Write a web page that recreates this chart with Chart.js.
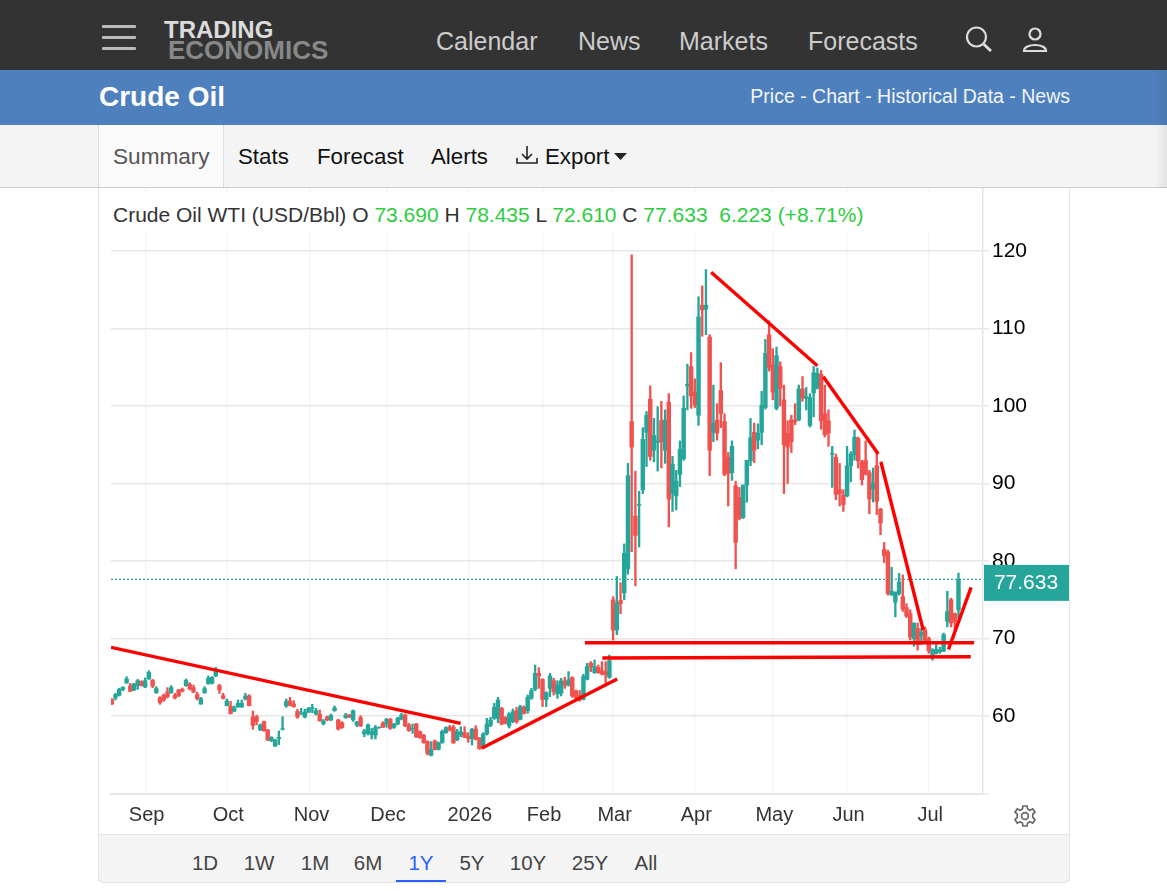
<!DOCTYPE html>
<html>
<head>
<meta charset="utf-8">
<title>Crude Oil</title>
<script src="https://cdn.jsdelivr.net/npm/chart.js@4"></script>
<style>
  html, body { margin: 0; padding: 0; background: #fff; }
  body { width: 1167px; height: 891px; position: relative; overflow: hidden; font-family: "Liberation Sans", Arial, sans-serif; }
  .box { position: absolute; }
  .t { position: absolute; white-space: nowrap; line-height: 30px; }
  .nav { top: 26px; font-size: 25px; color: #ccc; }
  .tab { top: 142px; font-size: 22.3px; color: #111; }
  .range { top: 848px; font-size: 20.5px; color: #444; transform: translateX(-50%); }
  .bar { left: 102px; width: 34px; height: 3px; background: #bbb; border-radius: 1px; }
  #legend { position: absolute; left: 99px; top: 193px; width: 882px; height: 39px; background: #fff; font-size: 21px; line-height: 44px; color: #333; white-space: pre; text-indent: 14px; }
  #legend b { font-weight: normal; color: #2ecc40; }
  canvas { position: absolute; left: 99px; top: 188px; }
</style>
</head>
<body>
<div class="box" style="left:0;top:0;width:1167px;height:70px;background:#333"></div>
<div class="box bar" style="top:25px"></div>
<div class="box bar" style="top:36px"></div>
<div class="box bar" style="top:47px"></div>
<div class="t" style="left:164px;top:15px;font-size:24px;font-weight:bold;color:#dcdcdc">TRADING</div>
<div class="t" style="left:168px;top:35px;font-size:26px;font-weight:bold;color:#888">ECONOMICS</div>
<div class="t nav" style="left:436px">Calendar</div>
<div class="t nav" style="left:578px">News</div>
<div class="t nav" style="left:679px">Markets</div>
<div class="t nav" style="left:808px">Forecasts</div>
<svg class="box" style="left:964px;top:25px" width="30" height="30" viewBox="0 0 30 30" fill="none" stroke="#ddd" stroke-width="2.2">
  <circle cx="12.5" cy="12" r="9.5"/><path d="M19.5 19 L27 26" stroke-width="3"/>
</svg>
<svg class="box" style="left:1021px;top:26px" width="28" height="28" viewBox="0 0 28 28" fill="none" stroke="#ddd" stroke-width="2.2">
  <circle cx="14" cy="8" r="5.5"/><path d="M3 25 C3 17 25 17 25 25 Z"/>
</svg>

<div class="box" style="left:0;top:70px;width:1167px;height:55px;background:#4e80bd"></div>
<div class="t" style="left:99px;top:82px;font-size:28px;font-weight:bold;color:#fff">Crude Oil</div>
<div class="t" style="right:97px;top:81px;font-size:19.5px;color:#f2f5fa">Price - Chart - Historical Data - News</div>

<div class="box" style="left:0;top:125px;width:1167px;height:62px;background:#f4f4f4;border-bottom:1px solid #ccc"></div>
<div class="box" style="left:98px;top:125px;width:123.5px;height:62px;background:#fafafa;border-left:1px solid #ddd;border-right:1px solid #ddd"></div>
<div class="t tab" style="left:113px;color:#555;font-size:22.6px">Summary</div>
<div class="t tab" style="left:238px">Stats</div>
<div class="t tab" style="left:317px">Forecast</div>
<div class="t tab" style="left:431px">Alerts</div>
<svg class="box" style="left:515px;top:143px" width="24" height="24" viewBox="0 0 24 24" fill="none" stroke="#222" stroke-width="1.6">
  <path d="M12 3 V16 M7 11 L12 16 L17 11 M2 15 V20 H22 V15"/>
</svg>
<div class="t tab" style="left:545px">Export</div>
<svg class="box" style="left:614px;top:153px" width="13" height="7" viewBox="0 0 13 7"><path d="M0 0 H13 L6.5 7 Z" fill="#222"/></svg>

<div class="box" style="left:98px;top:188px;width:970px;height:694px;border-left:1px solid #e4e4e4;border-right:1px solid #e4e4e4"></div>
<canvas id="oilChart" width="970" height="646"></canvas>
<div id="legend">Crude Oil WTI (USD/Bbl) O <b>73.690</b> H <b>78.435</b> L <b>72.610</b> C <b>77.633  6.223 (+8.71%)</b></div>
<svg class="box" style="left:1013px;top:804px" width="24" height="24" viewBox="0 0 24 24" fill="none" stroke="#666" stroke-width="1.7">
  <circle cx="12" cy="12" r="3.4"/>
  <path d="M10 2 H14 L14.6 5 L17 6.2 L19.7 4.8 L22 8.2 L19.8 10.2 V13.4 L22 15.6 L19.7 19.2 L17 17.8 L14.6 19 L14 22 H10 L9.4 19 L7 17.8 L4.3 19.2 L2 15.6 L4.2 13.4 V10.2 L2 8.2 L4.3 4.8 L7 6.2 L9.4 5 Z"/>
</svg>

<div class="box" style="left:98px;top:834px;width:970px;height:47px;background:#f4f4f4;border:1px solid #e4e4e4;border-radius:0 0 6px 6px"></div>
<div class="t range" style="left:205px">1D</div>
<div class="t range" style="left:259px">1W</div>
<div class="t range" style="left:315px">1M</div>
<div class="t range" style="left:368px">6M</div>
<div class="t range" style="left:421px;color:#2962ff">1Y</div>
<div class="t range" style="left:472px">5Y</div>
<div class="t range" style="left:528px">10Y</div>
<div class="t range" style="left:590px">25Y</div>
<div class="t range" style="left:646px">All</div>
<div class="box" style="left:396px;top:880px;width:50px;height:2px;background:#2962ff"></div>
<div class="box" style="left:1155px;top:70px;width:12px;height:118px;background:linear-gradient(to right,rgba(0,0,0,0),rgba(0,0,0,.07))"></div>

<script>
// daily candles
const opens = [
  62.15,62.33,62.67,63.44,64.26,63.87,63.36,63.92,64.43,63.75,
  64.78,64.6,63.01,62.37,62.67,63.1,63.01,62.67,63.36,63.44,
  63.92,64.09,63.66,62.76,61.55,63.01,64.18,64.22,65.17,63.92,
  62.63,61.34,61.25,60.65,61.17,61.17,62.2,62.59,59.88,59.92,
  58.2,59.27,58.2,56.82,56.14,57.08,58.28,61.3,61.94,61.55,
  60.61,60.26,59.88,60.52,60.99,60.26,60.22,59.02,59.88,59.49,
  60.69,59.49,59.14,59.79,60.13,59.49,58.85,59.79,57.68,57.77,57.6,
  57.55,58.5,59.06,58.97,59.57,58.54,58.97,59.62,60.13,58.85,
  58.33,58.97,57.98,57.51,56.7,54.93,56.78,55.7,56.57,57.85,
  58.54,58.54,56.91,57.55,57.85,57.34,57.12,58.33,57.12,56.14,
  57.68,58.8,59.7,59.7,60.99,59.79,58.72,59.27,60.69,59.57,
  61.12,60.69,62.33,63.44,65.51,64.73,62.15,63.57,64.56,62.84,
  62.93,64.48,64,64.95,63.23,62.67,62.15,64.73,66.8,65.6,
  66.28,65.85,65.73,64.99,
  75,71.1,74.9,75.9,79,98,85.8,87.2,89.2,96.6,
  100.9,94.3,95.3,98.1,94.3,100.5,88.7,88.4,91.2,93.2,
  102.6,105.1,101.8,98.8,113,112.5,108.9,96.6,98.2,102,
  98,93.4,91.4,89.7,88.2,85.6,89.8,92.9,96.6,95.6,
  96.6,99.8,109.2,105.3,99.7,105.1,100.8,96.5,98.2,98.2,
  98.2,102.2,101,97.5,101.7,102.3,104.1,99,98.1,93.8,
  93.4,89.2,88.5,88.4,92.3,93.7,95.8,92.8,93,91.4,
  89.3,92.3,86.7,81.5,81.1,75.6,74.7,75.8,75.4,74,
  73.2,70,71.3,70.4,71.1,70,67.9,68.1,68.3,68.4,
  72.2,75,73.2,73.69
];
const closes = [
  61.55,62.76,63.44,63.7,64.78,63.19,64.13,64.56,63.92,64.56,
  65.64,63.87,63.53,61.72,62.07,62.5,63.66,62.33,62.63,63.19,
  64.6,63.49,63.1,62.24,62.24,63.53,64.87,64.99,65.73,63.36,
  62.28,61.94,60.31,61.04,61.64,61.64,62.59,61.34,58.8,59.27,
  58.85,58.11,56.91,57.25,56.91,57.25,58.37,61.9,61.38,61.21,
  59.88,60.35,60.52,60.99,61.08,60.69,59.4,59.36,59.49,60.09,
  61.04,58.33,58.5,60.13,59.88,60.69,59.23,58.72,58.07,58.85,57.98,
  58.54,58.54,58.54,59.57,58.41,58.97,59.7,60.13,58.72,58.11,
  58.41,57.34,57.21,56.57,55.19,55.7,55.7,56.57,58.02,58.5,
  58.2,56.52,57.98,57.94,57.25,57.08,58.28,57,55.79,57.68,
  58.97,59.49,61.12,62.07,58.97,59.06,60.26,60.56,59.27,61.21,
  60.35,62.41,63.27,65.51,65.17,62.15,63.01,65.17,63.14,64,
  64.56,63.96,64.65,62.59,62.33,62.15,65.08,66.37,66.37,66.37,
  65.6,65.42,65.3,67.14,
  71.1,74.6,74.5,81,91,94.7,83.3,87.3,95.7,98.8,
  93.5,96.2,95.5,95.4,98.2,88,92.5,90.3,94.4,99.7,
  102.8,101.3,100.1,111.5,112.4,113,94.3,97.8,96.5,99,
  91.2,91.3,94.8,82.4,85.5,89.8,93,95.9,94.3,96.5,
  100.1,106.8,105,101.8,106.5,102.3,95,94.7,95.4,98,
  102.2,101,101.2,101.1,104.3,104.2,98.1,96.3,96.5,93.9,
  88.6,88.7,87.3,92.3,93.8,96,92.9,90.5,91.2,88,
  90.1,87.7,84.9,80.7,75.8,76.1,76,77.3,73.8,72.9,
  70.2,72,69.2,70.8,69.7,68.4,68.5,68.6,68.5,70.5,
  73.5,72,72.2,77.633
];
const highs = [
  62.24,62.93,63.57,63.79,65.08,64.22,64.22,64.73,64.56,64.91,
  65.85,64.73,63.79,62.5,62.84,63.66,63.92,62.93,63.44,63.62,
  64.78,64.31,64,63.06,62.41,63.79,65.17,65.08,66.28,64.09,
  62.93,62.2,61.9,61.3,62.07,62.07,62.93,62.76,60.65,60.13,
  58.98,59.36,58.28,57.34,57,58.07,59.92,62.2,62.41,61.98,
  60.87,60.99,60.87,61.12,61.51,60.99,60.78,59.57,60,60.26,
  61.3,59.57,59.27,60.35,60.22,60.78,59.32,60.05,58.28,58.98,58.41,
  58.8,58.63,59.27,59.7,59.7,59.06,59.83,60.35,60.26,59.06,
  58.97,59.06,58.07,57.64,56.82,56.7,56.91,56.65,58.2,58.63,
  58.8,58.8,58.28,58.63,58.63,57.85,58.41,58.76,57.25,57.85,
  59.7,59.83,61.64,62.41,61.12,59.92,60.43,60.91,61.12,61.38,
  61.3,62.71,63.57,66.58,66.24,64.82,63.14,65.51,64.87,64.56,
  64.87,65,65.73,65.08,63.36,63.3,65.38,66.8,67.02,67.23,
  66.58,67.02,67.02,67.87,
  75.4,78,77.2,82.2,92.6,119.5,91.6,89,97.2,99.3,
  102.6,98.4,99.9,100.6,99.5,101.6,93.5,91.7,95.5,101.3,
  105.4,106.9,103.5,114.1,115.5,117.6,109.2,102.7,100.3,105.6,
  99,94,95.5,90.3,89.5,89.8,93,98.4,97.8,97.7,
  101.9,108.6,111,107.4,107.6,105.7,102.7,98.1,98.8,100.3,
  102.7,103.8,102.4,101.6,105.1,104.9,104.6,102.7,99.5,94.8,
  93.8,92.6,89.2,94.8,94.1,96.9,96,93,95.5,91.7,
  92,93.9,86.8,82.4,81.4,79.2,76,78.4,78.2,74.5,
  73.7,72,72,71.3,71.5,70.2,68.7,69.2,68.9,70.7,
  76.1,75.2,73.3,78.435
];
const lows = [
  61.47,62.07,62.58,63.27,64.22,63.14,63.27,63.44,63.87,63.66,
  64.73,63.66,62.93,61.51,61.9,62.33,62.93,62.2,62.5,63.1,
  63.83,63.36,63.01,62.07,61.51,62.93,64.09,64.13,65.08,62.93,
  62.2,61.3,60.26,60.56,61.12,61.12,62.07,61.3,58.28,58.85,
  58.11,58.02,56.82,56.69,56.05,56.31,58.2,61.12,61.3,61.12,
  59.7,60.22,59.75,60.43,60.43,60.13,59.32,58.85,59.4,59.4,
  60.61,58.2,58.41,59.7,59.79,59.32,58.63,58.63,57.34,57.55,57.04,
  57.04,58.41,58.54,58.54,58.28,58.41,58.85,59.49,58.63,58.02,
  57.77,57.21,57.12,56.48,54.97,54.85,55.62,55.62,56.48,57.77,
  58.07,56.48,56.82,57.34,57.21,56.61,56.26,56.91,55.7,55.97,
  57.55,58.63,59.57,59.14,58.85,58.97,58.46,59.14,59.06,59.49,
  60.26,60.35,62.15,63.27,63.57,61.21,61.21,62.5,62.71,62.28,
  62.59,63.57,63.87,62.41,62.15,61.9,62.07,64.65,65.73,65.51,
  65.51,65.3,64.22,64.87,
  69.8,70.5,73.2,75,78.3,81.2,76.8,81.8,88.7,92.2,
  93,92.8,91.6,92,92.6,84.4,86.4,86.6,89.6,93,
  99.5,99.7,99.8,97.5,109,109.2,91,95.4,95.6,97.2,
  91,87.1,90.4,79,85.3,85.5,87.6,92.3,92.7,94.5,
  95,99.6,104.5,100.8,99.5,100,88.7,90,94,97.6,
  98.1,100.6,99.5,97.3,98.6,102.2,97,96,94.8,89.5,
  87.9,87.1,86.4,88.3,90.2,93,92,89.8,91.1,86.1,
  87.6,86,83.4,79.8,75.6,75.6,72.8,75.6,73.5,72.7,
  69.8,69,68.5,69.2,69.6,68.1,67.2,68,68.1,68.3,
  71.5,71.5,71,72.61
];

// axis ticks: month labels sit on the candle index where the month starts
const monthLabels = ["Sep","Oct","Nov","Dec","2026","Feb","Mar","Apr","May","Jun","Jul"];
const monthStarts = [9,31,53.4,74,96,116,135,157,178,198,220];
const priceTicks = [60,70,80,90,100,110,120];

// hand drawn trend lines, in candle index / price
const trendFromX = [-0.2,99.6,127.4,132.1,161.4,191.6,207.1,225.3];
const trendFromY = [68.86,55.83,69.46,67.48,117.25,103.78,92.81,68.6];
const trendToX = [93.95,136.1,232.2,231.3,190,206.4,218.5,231.4];
const trendToY = [59.06,64.77,69.46,67.65,105.2,93.81,71.1,76.6];

const UP = "#26a69a";
const DOWN = "#ef5350";
const X_MIN = -0.2;
const X_MAX = 234.6;
const Y_MIN = 49.94;
const Y_MAX = 128.13;
const lastClose = closes[closes.length - 1];
const candleColors = closes.map((c, i) => (c >= opens[i] ? UP : DOWN));

const trendSets = trendFromX.map((x, i) => ({
  type: "line",
  data: [{ x: x, y: trendFromY[i] }, { x: trendToX[i], y: trendToY[i] }],
  borderColor: "#ff0000",
  borderWidth: 3.4,
  pointRadius: 0,
  order: 1,
}));

// price tag on the right axis
const priceTag = {
  id: "priceTag",
  afterDraw(chart) {
    const ctx = chart.ctx;
    const y = chart.scales.y.getPixelForValue(lastClose);
    ctx.save();
    ctx.fillStyle = UP;
    ctx.fillRect(885, y - 14.5, 85, 36);
    ctx.fillStyle = "#fff";
    ctx.font = "21px 'Liberation Sans'";
    ctx.textAlign = "center";
    ctx.textBaseline = "middle";
    ctx.fillText(lastClose.toFixed(3), 927, y + 4);
    ctx.restore();
  },
};

new Chart(document.getElementById("oilChart"), {
  type: "bar",
  plugins: [priceTag],
  data: {
    datasets: [
      ...trendSets,
      {
        // bodies
        data: opens.map((o, i) => ({ x: i, y: [o, closes[i]] })),
        backgroundColor: candleColors,
        barThickness: 3.8,
        grouped: false,
        order: 2,
      },
      {
        // wicks
        data: lows.map((l, i) => ({ x: i, y: [l, highs[i]] })),
        backgroundColor: candleColors,
        barThickness: 1.7,
        grouped: false,
        order: 3,
      },
      {
        type: "line",
        data: [{ x: X_MIN, y: lastClose }, { x: X_MAX, y: lastClose }],
        borderColor: UP,
        borderWidth: 1.2,
        borderDash: [2, 2],
        pointRadius: 0,
        order: 4,
      },
    ],
  },
  options: {
    responsive: false,
    animation: false,
    events: [],
    layout: { padding: { left: 12, top: 0, right: 0, bottom: 0 } },
    plugins: { legend: { display: false }, tooltip: { enabled: false } },
    scales: {
      x: {
        type: "linear",
        min: X_MIN,
        max: X_MAX,
        offset: false,
        afterBuildTicks: (s) => { s.ticks = monthStarts.map((v) => ({ value: v })); },
        afterFit: (s) => { s.height = 40; s.paddingLeft = 0; s.paddingRight = 0; },
        grid: { color: "#f0f3fa", lineWidth: 1.3, offset: false, drawTicks: false },
        border: { color: "#e6e6e6", width: 2 },
        ticks: {
          autoSkip: false,
          maxRotation: 0,
          padding: 9,
          labelOffset: 1.5,
          color: "#333",
          font: { family: "'Liberation Sans'", size: 20 },
          callback: (v) => monthLabels[monthStarts.indexOf(v)],
        },
      },
      y: {
        position: "right",
        min: Y_MIN,
        max: Y_MAX,
        // the extra tick at the floor only draws the little stub past the axis line
        afterBuildTicks: (s) => { s.ticks = [Y_MIN, ...priceTicks].map((v) => ({ value: v })); },
        afterFit: (s) => { s.width = 86; s.paddingTop = 0; s.paddingBottom = 0; },
        grid: { color: "#e8e8e8", lineWidth: 1.5, tickLength: 6 },
        border: { color: "#e6e6e6", width: 1.5 },
        ticks: {
          padding: 3,
          color: "#000",
          font: { family: "'Liberation Sans'", size: 21 },
          callback: (v) => (priceTicks.includes(v) ? String(v) : ""),
        },
      },
    },
  },
});
</script>
</body>
</html>
